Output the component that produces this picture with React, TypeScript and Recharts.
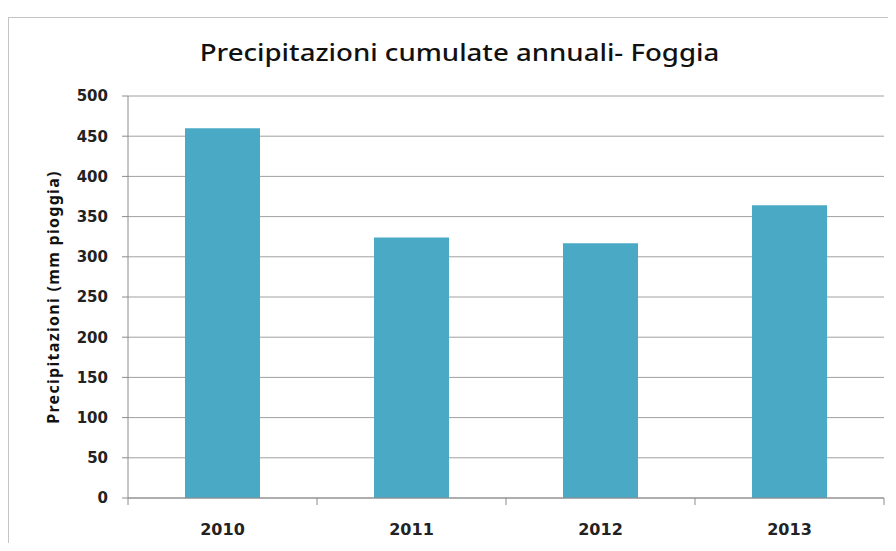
import React from 'react';
import { BarChart, Bar, XAxis, YAxis, CartesianGrid } from 'recharts';

const years = ['2010', '2011', '2012', '2013'];
const rainfall = [460, 324, 317, 364];
const yTicks = [0, 50, 100, 150, 200, 250, 300, 350, 400, 450, 500];

const data = years.map((year, i) => ({ year, mm: rainfall[i] }));

const CHART_W = 879;
const CHART_H = 525;
const MARGIN = { top: 78, right: 4, left: 0, bottom: 0 };
const Y_W = 119;
const BAND = (CHART_W - MARGIN.right - Y_W) / years.length;

const AXIS = '#8c8c8c';
const TICK_FONT = { fontFamily: 'DejaVu Sans', fontWeight: 'bold', fontSize: 15, fill: '#222' };

// Excel style: x tick marks sit between categories, not under them
const XTick = (props: any) => {
    const { x, y, payload, index } = props;
    const left = x - BAND / 2;
    return (
        <g>
            <line x1={left} y1={y - 8} x2={left} y2={y - 1} stroke={AXIS} />
            {index === years.length - 1 && (
                <line x1={x + BAND / 2} y1={y - 8} x2={x + BAND / 2} y2={y - 1} stroke={AXIS} />
            )}
            <text x={x} y={y + 29} textAnchor="middle" {...TICK_FONT} fontSize={16}>
                {payload.value}
            </text>
        </g>
    );
};

export default function App() {
    return (
        <div style={{ position: 'relative', width: 880, height: 535 }}>
            <div
                style={{
                    position: 'absolute',
                    top: 9,
                    left: 0,
                    width: CHART_W,
                    height: 526,
                    borderTop: '1px solid #c4c4c4',
                    borderLeft: '1px solid #c4c4c4',
                    background: '#fff',
                }}
            >
                <div
                    style={{
                        position: 'absolute',
                        top: 17,
                        left: 11,
                        width: CHART_W,
                        textAlign: 'center',
                        fontFamily: 'Noto Sans',
                        fontWeight: 500,
                        fontSize: 24,
                        color: '#111',
                        transform: 'scaleX(1.15)',
                    }}
                >
                    Precipitazioni cumulate annuali- Foggia
                </div>
                <BarChart width={CHART_W} height={CHART_H} data={data} margin={MARGIN}>
                    <CartesianGrid vertical={false} stroke="#a0a0a0" />
                    <XAxis
                        dataKey="year"
                        height={45}
                        stroke={AXIS}
                        tickLine={false}
                        tick={<XTick />}
                        interval={0}
                    />
                    <YAxis
                        width={Y_W}
                        domain={[0, 500]}
                        ticks={yTicks}
                        interval={0}
                        stroke={AXIS}
                        tickSize={6}
                        tickMargin={14}
                        tick={TICK_FONT}
                        label={{
                            value: 'Precipitazioni (mm pioggia)',
                            angle: -90,
                            position: 'insideLeft',
                            offset: 44,
                            style: {
                                textAnchor: 'middle',
                                fontFamily: 'Noto Sans',
                                fontWeight: 'bold',
                                fontSize: 16,
                                letterSpacing: 1.3,
                                fill: '#111',
                            },
                        }}
                    />
                    <Bar dataKey="mm" fill="#4aaac5" barSize={75} isAnimationActive={false} />
                </BarChart>
            </div>
        </div>
    );
}
